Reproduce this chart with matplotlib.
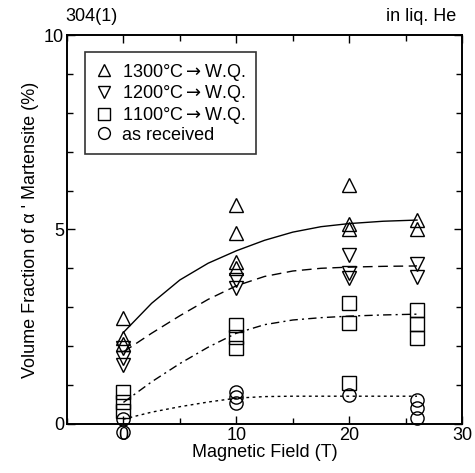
import matplotlib
matplotlib.use("Agg")
import matplotlib.pyplot as plt
from matplotlib.lines import Line2D
from matplotlib.ticker import MultipleLocator

plt.rcParams['font.family'] = ['Liberation Sans', 'DejaVu Sans']
plt.rcParams['mathtext.fontset'] = 'dejavusans'

# ---- data ----
t1300_x = [0, 0, 0, 10, 10, 10, 10, 20, 20, 20, 26, 26]
t1300_y = [2.72, 2.2, 2.05, 5.62, 4.9, 4.15, 4.0, 6.13, 5.15, 5.0, 5.23, 5.0]

t1200_x = [0, 0, 0, 10, 10, 20, 20, 20, 26, 26]
t1200_y = [1.95, 1.7, 1.5, 3.69, 3.5, 4.33, 3.87, 3.74, 4.1, 3.77]

t1100_x = [0, 0, 0, 10, 10, 10, 20, 20, 20, 26, 26, 26]
t1100_y = [0.82, 0.55, 0.32, 2.54, 2.24, 1.95, 3.1, 2.59, 1.05, 2.92, 2.57, 2.2]

asrec_x = [0, 0, 10, 10, 10, 20, 26, 26, 26]
asrec_y = [0.12, -0.2, 0.82, 0.7, 0.54, 0.74, 0.62, 0.41, 0.15]

curve_x = [0, 2.5, 5, 7.5, 10, 12.5, 15, 17.5, 20, 23, 26]
curve_1300 = [2.35, 3.1, 3.7, 4.13, 4.45, 4.72, 4.93, 5.07, 5.15, 5.21, 5.24]
curve_1200 = [1.85, 2.33, 2.78, 3.2, 3.55, 3.79, 3.93, 4.0, 4.03, 4.05, 4.06]
curve_1100 = [0.55, 1.08, 1.55, 1.97, 2.33, 2.55, 2.67, 2.73, 2.77, 2.8, 2.82]
curve_asrec = [0.12, 0.3, 0.44, 0.56, 0.66, 0.7, 0.71, 0.71, 0.71, 0.71, 0.71]

labels = ['1300\u00b0C$\\rightarrow$W.Q.', '1200\u00b0C$\\rightarrow$W.Q.',
          '1100\u00b0C$\\rightarrow$W.Q.', 'as received']

fig = plt.figure(figsize=(4.75, 4.73), dpi=100)
ax = fig.add_axes([0.141, 0.104, 0.832, 0.822])

ms = 10
kw = dict(linestyle='none', markerfacecolor='none', markeredgecolor='black',
          markeredgewidth=1.0, markersize=ms, clip_on=False, zorder=3)
ax.plot(t1300_x, t1300_y, marker='^', **kw)
ax.plot(t1200_x, t1200_y, marker='v', **kw)
ax.plot(t1100_x, t1100_y, marker='s', **dict(kw, markersize=9.5))
ax.plot(asrec_x, asrec_y, marker='o', **dict(kw, markersize=9.5))

ax.plot(curve_x, curve_1300, color='black', lw=1.0, linestyle='-')
ax.plot(curve_x, curve_1200, color='black', lw=1.0, linestyle=(0, (7, 4)))
ax.plot(curve_x, curve_1100, color='black', lw=1.0, linestyle=(0, (6, 3, 1.5, 3)))
ax.plot(curve_x, curve_asrec, color='black', lw=1.0, linestyle=(0, (2, 2.5)))

ax.set_xlim(-5, 30)
ax.set_ylim(0, 10)
ax.xaxis.set_major_locator(MultipleLocator(10))
ax.xaxis.set_minor_locator(MultipleLocator(5))
ax.yaxis.set_major_locator(MultipleLocator(5))
ax.yaxis.set_minor_locator(MultipleLocator(1))
ax.tick_params(which='both', direction='in', top=True, right=True, width=1.0,
               labelsize=13, pad=2)
ax.tick_params(which='major', length=6)
ax.tick_params(which='minor', length=4)
for s in ax.spines.values():
    s.set_linewidth(1.4)

ax.set_xlabel('Magnetic Field (T)', fontsize=13, labelpad=0)
ax.set_ylabel("Volume Fraction of \u03b1 ' Martensite (%)", fontsize=13, labelpad=4)

fig.text(0.137, 0.965, '304(1)', fontsize=13, ha='left', va='center')
fig.text(0.96, 0.965, 'in liq. He', fontsize=13, ha='right', va='center')

handles = [Line2D([], [], linestyle='none', marker=m, markerfacecolor='none',
                  markeredgecolor='black', markeredgewidth=1.0, markersize=8.5)
           for m in ['^', 'v', 's', 'o']]
leg = ax.legend(handles, labels, loc='upper left', bbox_to_anchor=(0.046, 0.957),
                fontsize=13, frameon=True, fancybox=False, edgecolor='black',
                handlelength=1.0, handletextpad=0.5, labelspacing=0.04,
                borderpad=0.55, borderaxespad=0)
leg.get_frame().set_linewidth(1.2)

fig.savefig('out.png', dpi=100)
